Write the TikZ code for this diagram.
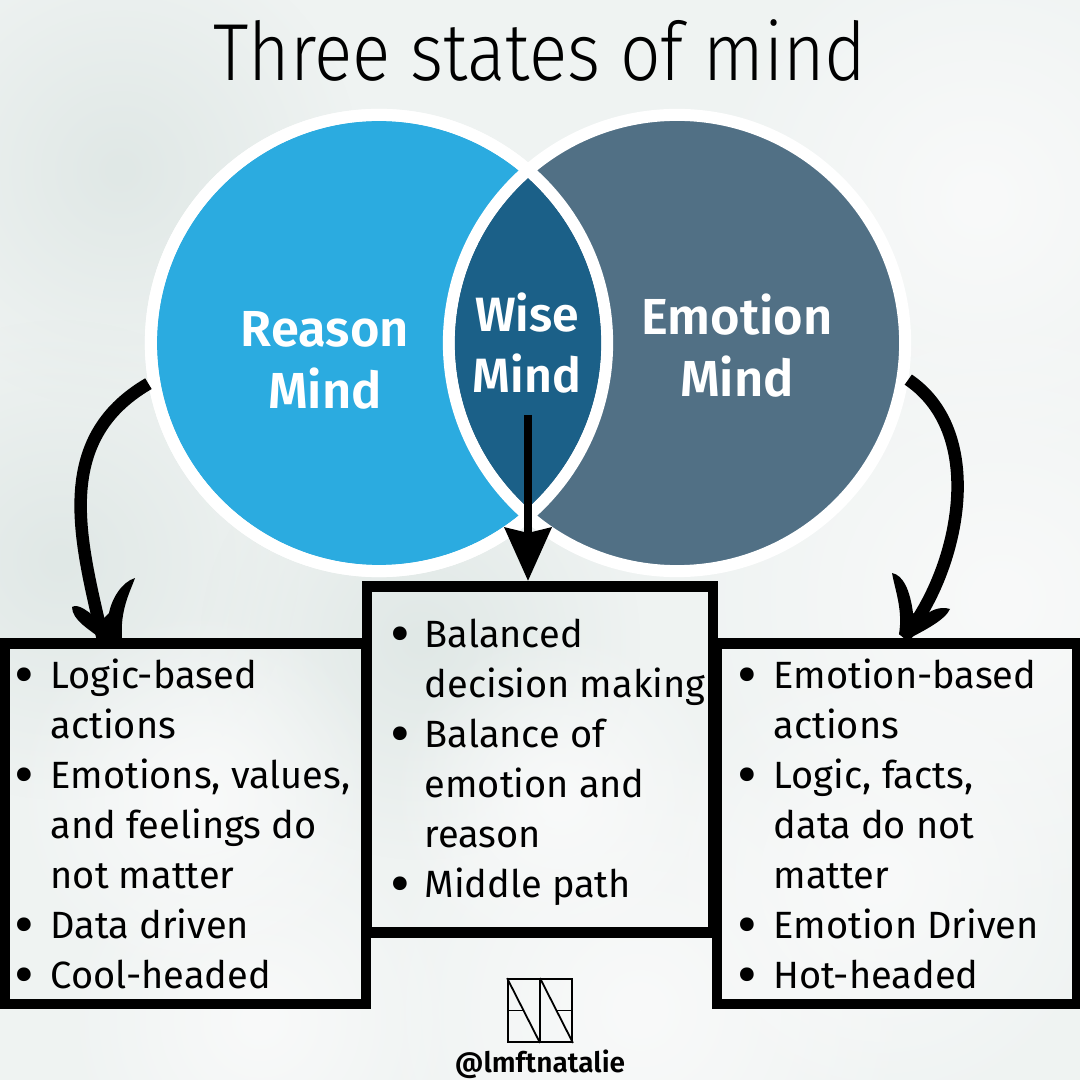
\documentclass[tikz,border=0pt]{standalone}
\usepackage{fontspec}
\usepackage{array}
\usetikzlibrary{arrows.meta,fadings}
\setmainfont{Fira Sans}
\newfontfamily\titlefont{Fira Sans}[UprightFont=* Light, FakeStretch=0.88]
\newfontfamily\labelfont{Fira Sans}[UprightFont=* SemiBold]
\definecolor{paper}{HTML}{EFF3F2}
\definecolor{paperdark}{HTML}{E0E8E6}
\definecolor{paperlight}{HTML}{F9FAFA}
\definecolor{reasoncol}{HTML}{2BABE0}
\definecolor{emotioncol}{HTML}{517085}
\definecolor{wisecol}{HTML}{1B6088}
\newcommand{\listdot}{\raisebox{-0.075cm}{\scalebox{1.6}{\textbullet}}}
\tikzfading[name=softedge, inner color=transparent!0, outer color=transparent!100]
\tikzset{
	statecircle/.style={circle, draw=white, line width=0.12cm, minimum size=4.56cm, inner sep=0},
	statelabel/.style={text=white, align=center, font=\labelfont\fontsize{14.4}{17.6}\selectfont},
	listbox/.style={draw=black, line width=0.107cm, inner sep=0, anchor=north},
	listtext/.style={anchor=base west, inner sep=0, font=\fontsize{10.8}{14.226}\selectfont},
	curvearrow/.style={line width=0.125cm},
	blob/.style={path fading=softedge},
}
\begin{document}
\begin{tikzpicture}[x=0.01cm,y=-0.01cm]
\useasboundingbox (0,0) rectangle (1080,1080);
\clip (0,0) rectangle (1080,1080);

% paper
\fill[paper] (0,0) rectangle (1080,1080);
\foreach \px/\py/\pr in {120/170/240, 60/560/240, 420/640/220}
	\fill[blob, paperdark] (\px,\py) circle[radius=\pr*0.01cm];
\foreach \px/\py/\pr in {260/1020/200, 980/200/280, 1000/600/320, 640/1010/280, 200/800/190, 560/800/170, 880/880/240}
	\fill[blob, paperlight] (\px,\py) circle[radius=\pr*0.01cm];

% circles
\path (379,343) node[statecircle, fill=reasoncol] (reasonc) {}
		(677,343) node[statecircle, fill=emotioncol] (emotionc) {};
\draw[white, line width=0.12cm] (reasonc.center) circle[radius=2.28cm];
\begin{scope}
\clip (reasonc.center) circle[radius=2.22cm];
\fill[wisecol] (emotionc.center) circle[radius=2.22cm];
\end{scope}

\path (540,51) node[font=\titlefont\fontsize{23}{28}\selectfont] (title) {Three states of mind}
		(325,360) node[statelabel] (reason) {Reason\\Mind}
		(527,343) node[statelabel, font=\labelfont\fontsize{13.7}{17.4}\selectfont] (wise) {Wise\\Mind}
		(737,346) node[statelabel] (emotion) {Emotion\\Mind}
		(528,415) coordinate (wisefoot)
;

% boxes
\path (185.5,638) node[listbox, minimum width=3.61cm, minimum height=3.605cm] (leftbox) {}
		(897,638) node[listbox, minimum width=3.6cm, minimum height=3.605cm] (rightbox) {}
		(540,581) node[listbox, minimum width=3.46cm, minimum height=3.46cm] (midbox) {}
;

\node[listtext] (lefttext) at (13.5,688) {\begin{tabular}[t]{@{}p{0.365cm}@{}l@{}}
\listdot & Logic-based\\
 & actions\\
\listdot & Emotions, values,\\
 & and feelings do\\
 & not matter\\
\listdot & Data driven\\
\listdot & Cool-headed
\end{tabular}};
\node[listtext] (midtext) at (390,647) {\begin{tabular}[t]{@{}p{0.34cm}@{}l@{}}
\listdot & Balanced\\
 & decision making\\
\listdot & Balance of\\
 & emotion and\\
 & reason\\
\listdot & Middle path
\end{tabular}};
\node[listtext] (righttext) at (737,688) {\begin{tabular}[t]{@{}p{0.36cm}@{}l@{}}
\listdot & Emotion-based\\
 & actions\\
\listdot & Logic, facts,\\
 & data do not\\
 & matter\\
\listdot & Emotion Driven\\
\listdot & Hot-headed
\end{tabular}};

% arrows
\coordinate (leftend) at ([xshift=1.03cm]leftbox.north west);
\coordinate (rightend) at ([xshift=1.92cm]rightbox.north west);
\draw[curvearrow] (reasonc.190) .. controls (52,440) and (80,540) .. (leftend);
\fill (72,607) .. controls (78,603) and (90,612) .. (100,622) -- (109,613)
	.. controls (112,598) and (122,582) .. (135,578)
	.. controls (130,592) and (120,610) .. (122,638) -- (100,638)
	.. controls (90,630) and (72,620) .. (72,607) -- cycle;
\draw[curvearrow] (emotionc.-9) .. controls (990,435) and (957,575) .. (rightend);
\fill (892,573) .. controls (903,575) and (910,590) .. (913,613) -- (922,618)
	.. controls (930,610) and (940,606) .. (950,609)
	.. controls (945,620) and (925,630) .. (910,638) -- (899,634)
	.. controls (903,610) and (895,590) .. (892,573) -- cycle;
\draw[line width=0.085cm, -{Stealth[length=0.53cm, width=0.46cm, inset=0.05cm]}] (wisefoot) -- (wisefoot |- midbox.north);

% logo
\node[draw=black, line width=0.018cm, minimum width=0.64cm, minimum height=0.63cm, inner sep=0] (logo) at (540,1010.5) {};
\draw[line width=0.018cm] (logo.north) -- (logo.south);
\draw[line width=0.018cm] (logo.north west) -- (logo.south);
\draw[line width=0.018cm] (logo.north) -- (logo.south east);
\draw[line width=0.018cm] (logo.west) -- ++(16,0);
\draw[line width=0.018cm] (logo.east) -- ++(-17,0);
\node[font=\labelfont\fontsize{8}{9}\selectfont] (handle) at (540,1064) {@lmftnatalie};
\end{tikzpicture}
\end{document}
